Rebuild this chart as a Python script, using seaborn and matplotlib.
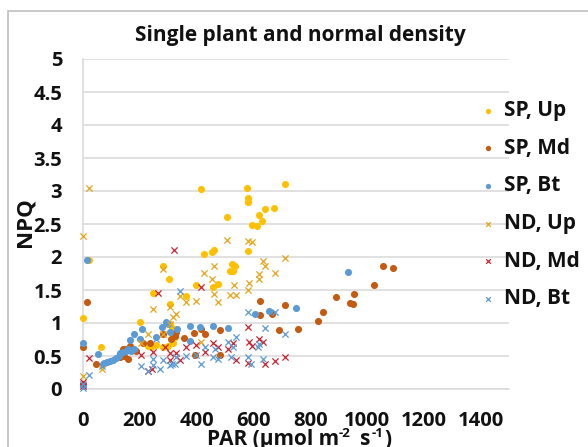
import matplotlib
matplotlib.use("Agg")
import matplotlib.pyplot as plt
from matplotlib.patches import Rectangle
import seaborn as sns

sp_up_x = [0,21,65,202,247,282,302,305,364,397,425,453,460,458,474,507,524,519,528,536,580,582,594,614,618,630,641,673,414,579,581,580,710,229,241,258,282,300,317,323,305,312]
sp_up_y = [1.08,1.95,.63,1.02,1.46,1.86,1.66,1.29,1.41,1.57,2.04,2.08,2.10,1.55,1.59,2.61,1.89,1.79,1.79,1.86,2.83,2.09,2.49,2.47,2.63,2.55,2.73,2.74,3.03,3.04,2.90,2.84,3.11,.65,.64,.66,.64,.65,.69,.79,.98,.92]
sp_md_x = [0,0,15,47,130,145,158,167,185,211,235,282,311,323,329,356,390,417,428,481,481,396,622,622,667,689,713,757,829,846,891,940,950,954,1024,1058,1091,140,152]
sp_md_y = [.63,.07,1.32,.38,.48,.5,.46,.65,.58,.69,.69,.84,.76,.81,.86,.78,.85,.91,.83,.90,.52,.51,1.34,1.12,1.13,.89,1.28,.91,1.03,1.16,1.40,1.30,1.29,1.44,1.58,1.86,1.83,.6,.6]
sp_bt_x = [0,0,13,54,70,75,85,95,105,115,125,130,140,150,160,170,180,165,180,209,200,258,279,293,300,308,331,376,376,411,458,510,605,655,750,933]
sp_bt_y = [.05,.70,1.96,.53,.38,.40,.41,.42,.44,.47,.5,.54,.56,.58,.6,.58,.6,.75,.84,.91,.76,.79,.94,1.02,.99,.86,.91,.96,.73,.94,.96,.93,1.13,1.18,1.23,1.77]
nd_up_x = [0,22,0,68,229,205,247,282,308,305,317,329,282,340,364,399,417,426,455,463,460,475,508,519,531,540,581,595,585,581,619,620,634,642,675,711]
nd_up_y = [2.32,3.05,.19,.31,.84,.69,1.21,1.82,1.24,.99,1.09,1.13,.84,1.41,1.32,1.33,.71,1.76,1.66,1.87,1.44,1.32,2.26,1.43,1.57,1.43,2.24,2.22,1.6,1.5,1.74,1.66,1.94,1.86,1.76,1.98]
nd_md_x = [0,0,21,205,247,229,244,264,319,288,305,305,329,340,364,399,417,428,458,475,511,528,540,581,585,595,581,620,634,642,675,711]
nd_md_y = [.05,.1,.47,.51,.56,.28,.31,1.46,2.11,.64,.54,.44,.54,.44,.64,.66,1.54,.56,.69,.64,.6,.69,.44,.94,.71,.65,.4,.76,.71,.38,.42,.48]
nd_bt_x = [0,0,21,68,205,229,247,247,270,282,258,305,315,323,329,340,364,399,417,428,458,464,475,511,522,528,540,581,581,593,616,620,634,642,675,711]
nd_bt_y = [.02,.07,.21,.35,.35,.27,.46,.36,.31,.44,.76,.36,.38,.38,.48,1.48,.5,.51,.38,.64,.48,.61,.46,.71,.48,.64,.79,1.16,.48,.38,.64,.68,.46,.93,1.16,.84]

labels = ["SP, Up","SP, Md","SP, Bt","ND, Up","ND, Md","ND, Bt"]
colors = ["#FFC000","#C55A11","#5B9BD5","#E5A51A","#C8242F","#5B9BD5"]
y_tick_labels = ["0","0.5","1","1.5","2","2.5","3","3.5","4","4.5","5"]

sns.set_theme(style="white")
plt.rcParams["font.family"] = ["Open Sans","DejaVu Sans"]
W,H = 588,447
fig = plt.figure(figsize=(W/100,H/100),dpi=100)
ax = fig.add_axes([83/W,1-389/H,426/W,330/H])
fig.add_artist(Rectangle((8/W,-5/H),(W+10)/W,(H+5-11)/H,transform=fig.transFigure,fc="white",ec="#BFBFBF",lw=1.2,zorder=-5))
ax.patch.set_alpha(0)
series = [(sp_up_x,sp_up_y),(sp_md_x,sp_md_y),(sp_bt_x,sp_bt_y),(nd_up_x,nd_up_y),(nd_md_x,nd_md_y),(nd_bt_x,nd_bt_y)]
for i,((x,y),l,c) in enumerate(zip(series,labels,colors)):
    if i<3:
        sns.scatterplot(x=x,y=y,ax=ax,color=c,marker="o",s=26,linewidth=0,label=l,clip_on=False,zorder=3+i)
    else:
        sns.scatterplot(x=x,y=y,ax=ax,color=c,marker="x",s=20,linewidth=0.9,label=l,clip_on=False,zorder=3+i)
ax.set_xlim(0,1500); ax.set_ylim(0,5)
ax.set_xticks(range(0,1401,200))
ax.set_yticks([0,.5,1,1.5,2,2.5,3,3.5,4,4.5,5])
ax.set_yticklabels(y_tick_labels)
ax.grid(axis="y",color="#D9D9D9",lw=1.1); ax.grid(axis="x",visible=False)
ax.set_axisbelow(True)
for s in ["top","right"]:
    ax.spines[s].set_visible(False)
for s in ["left","bottom"]:
    ax.spines[s].set_color("#D9D9D9"); ax.spines[s].set_linewidth(1.1)
ax.tick_params(length=0,labelsize=14.5,labelcolor="#111111")
ax.tick_params(axis="x",pad=16)
ax.tick_params(axis="y",pad=15)
for t in ax.get_xticklabels()+ax.get_yticklabels():
    t.set_fontweight("bold")
fig.text(300/W,1-36/H,"Single plant and normal density",ha="center",va="center",fontsize=15,fontweight="bold",color="#111111")
fig.text(25/W,1-222/H,"NPQ",rotation=90,ha="center",va="center",fontsize=16,fontweight="bold",color="#111111")
kw = dict(va="baseline",fontweight="bold",color="#111111")
fig.text(207/W,1-445/H,"PAR (µmol m",fontsize=15,**kw)
fig.text(339/W,1-437/H,"-2",fontsize=9.5,**kw)
fig.text(360/W,1-445/H,"s",fontsize=15,**kw)
fig.text(372/W,1-437/H,"-1",fontsize=9.5,**kw)
fig.text(384/W,1-445/H,")",fontsize=15,**kw)
h,l = ax.get_legend_handles_labels()
ax.legend(h,l,loc="upper left",bbox_to_anchor=(475/W,1-100/H),bbox_transform=fig.transFigure,frameon=False,
          prop={"size":15,"weight":"bold"},labelspacing=0.8,handletextpad=0.2,borderpad=0,borderaxespad=0,handlelength=1.2,markerscale=0.75)
for t in ax.get_legend().get_texts(): t.set_color("#111111")
fig.savefig("out.png",dpi=100)
